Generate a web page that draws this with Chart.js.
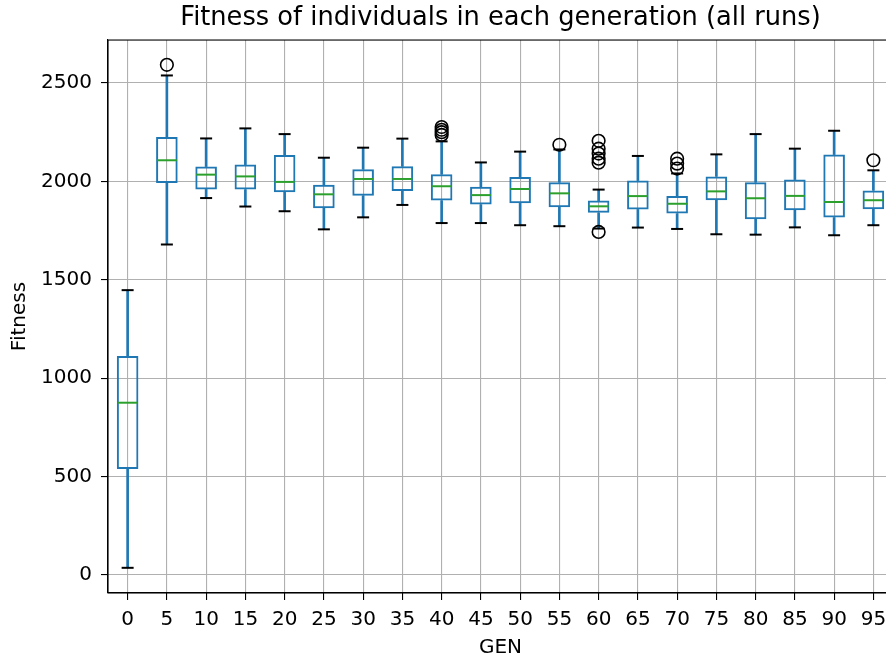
<!DOCTYPE html>
<html>
<head>
<meta charset="utf-8">
<script src="https://cdn.jsdelivr.net/npm/chart.js@4"></script>
<style>
  html, body { margin: 0; padding: 0; background: #fff; overflow: hidden; }
  #wrap { width: 1001px; height: 657px; }
</style>
</head>
<body>
<div id="wrap"><canvas id="box-chart" width="1001" height="657"></canvas></div>
<script>
// Поколения (ось X)
const generations = ['0', '5', '10', '15', '20', '25', '30', '35', '40', '45',
                     '50', '55', '60', '65', '70', '75', '80', '85', '90', '95'];

// Статистика ящиков
const whiskerLow  = [36, 1679, 1915, 1872, 1848, 1756, 1817, 1880, 1788, 1788,
                     1777, 1772, 1760, 1765, 1758, 1731, 1729, 1766, 1726, 1777];
const quartile1   = [538, 1991, 1959, 1958, 1944, 1863, 1927, 1951, 1902, 1882,
                     1888, 1868, 1840, 1857, 1836, 1904, 1807, 1853, 1816, 1858];
const medians     = [875, 2107, 2034, 2025, 1997, 1934, 2012, 2012, 1975, 1930,
                     1961, 1939, 1873, 1925, 1886, 1949, 1914, 1926, 1895, 1904];
const quartile3   = [1113, 2225, 2075, 2085, 2134, 1983, 2061, 2076, 2036, 1973,
                     2022, 1995, 1902, 2004, 1925, 2025, 1995, 2009, 2136, 1954];
const whiskerHigh = [1447, 2538, 2218, 2269, 2240, 2120, 2171, 2217, 2203, 2096,
                     2151, 2162, 1958, 2129, 2040, 2137, 2240, 2166, 2257, 2056];

// Выбросы
const outlierGen = ['5', '40', '40', '40', '40', '55', '60', '60', '60', '60', '60', '60', '70', '70', '70', '95'];
const outlierVal = [2592, 2276, 2262, 2250, 2236, 2186, 2206, 2166, 2141, 2115, 2095, 1743, 2115, 2090, 2065, 2107];

const yTicks = [0, 500, 1000, 1500, 2000, 2500];

const BLUE = '#1f77b4';
const GREEN = '#2ca02c';
const GRID = '#b0b0b0';
const FONT = 'DejaVu Sans';

// Рамка вокруг области графика (верх и право)
const framePlugin = {
    id: 'frame',
    afterDatasetsDraw(chart) {
        const {ctx, chartArea} = chart;
        ctx.save();
        ctx.strokeStyle = '#000';
        ctx.lineWidth = 1.1;
        ctx.strokeRect(chartArea.left, chartArea.top, chartArea.right - chartArea.left, chartArea.bottom - chartArea.top);
        ctx.restore();
    }
};

const ctx = document.getElementById('box-chart').getContext('2d');
const boxChart = new Chart(ctx, {
    type: 'bar',
    data: {
        labels: generations,
        datasets: [
            {
                label: 'lower whisker',
                data: whiskerLow.map((v, i) => [v, quartile1[i]]),
                backgroundColor: BLUE,
                borderWidth: 0,
                barThickness: 2,
                grouped: false,
                order: 4
            },
            {
                label: 'upper whisker',
                data: quartile3.map((v, i) => [v, whiskerHigh[i]]),
                backgroundColor: BLUE,
                borderWidth: 0,
                barThickness: 2,
                grouped: false,
                order: 4
            },
            {
                label: 'box',
                data: quartile1.map((v, i) => [v, quartile3[i]]),
                backgroundColor: 'rgba(0,0,0,0)',
                borderColor: BLUE,
                borderWidth: 2,
                borderSkipped: false,
                barPercentage: 0.55,
                categoryPercentage: 1,
                grouped: false,
                order: 3
            },
            {
                type: 'line',
                label: 'caps low',
                data: whiskerLow,
                showLine: false,
                pointStyle: 'line',
                pointRadius: 6,
                borderColor: '#000',
                borderWidth: 2,
                order: 2
            },
            {
                type: 'line',
                label: 'caps high',
                data: whiskerHigh,
                showLine: false,
                pointStyle: 'line',
                pointRadius: 6,
                borderColor: '#000',
                borderWidth: 2,
                order: 2
            },
            {
                type: 'line',
                label: 'median',
                data: medians,
                showLine: false,
                pointStyle: 'line',
                pointRadius: 10,
                borderColor: GREEN,
                borderWidth: 2,
                order: 1
            },
            {
                type: 'line',
                label: 'outliers',
                data: outlierGen.map((g, i) => ({x: g, y: outlierVal[i]})),
                showLine: false,
                pointStyle: 'circle',
                pointRadius: 6.3,
                borderColor: '#000',
                backgroundColor: 'rgba(0,0,0,0)',
                borderWidth: 1.6,
                order: 0
            }
        ]
    },
    options: {
        responsive: false,
        animation: false,
        devicePixelRatio: 1,
        layout: { padding: 0 },
        plugins: {
            legend: { display: false },
            tooltip: { enabled: false },
            title: {
                display: true,
                text: 'Fitness of individuals in each generation (all runs)',
                color: '#000',
                font: { family: FONT, size: 25.7, weight: 'normal' },
                padding: { top: 3, bottom: 6.2 }
            }
        },
        scales: {
            x: {
                type: 'category',
                offset: true,
                grid: { offset: false, color: GRID, lineWidth: 1.1, tickLength: 7, tickColor: '#000', tickWidth: 1.1 },
                border: { display: true, color: '#000', width: 1.1 },
                ticks: { color: '#000', font: { family: FONT, size: 20 }, padding: 8, maxRotation: 0, autoSkip: false },
                title: { display: true, text: 'GEN', color: '#000', font: { family: FONT, size: 20 }, padding: { top: 0, bottom: -3 } },
                afterFit(scale) { scale.height = 64; }
            },
            y: {
                min: -92,
                max: 2718,
                grid: { color: GRID, lineWidth: 1.1, tickLength: 7, tickColor: '#000', tickWidth: 1.1 },
                border: { display: true, color: '#000', width: 1.1 },
                ticks: { color: '#000', font: { family: FONT, size: 20 }, padding: 9, callback: v => String(v) },
                afterBuildTicks(scale) { scale.ticks = yTicks.map(v => ({value: v})); },
                title: { display: true, text: 'Fitness', color: '#000', font: { family: FONT, size: 20 }, padding: { top: 8, bottom: 0 } },
                afterFit(scale) { scale.width = 108; }
            },
            // пустая ось справа, чтобы заголовок был по центру осей
            yRight: {
                position: 'right',
                display: true,
                grid: { display: false, drawTicks: false },
                border: { display: false },
                ticks: { display: false },
                afterFit(scale) { scale.width = 108; }
            }
        }
    },
    plugins: [framePlugin]
});
</script>
</body>
</html>
